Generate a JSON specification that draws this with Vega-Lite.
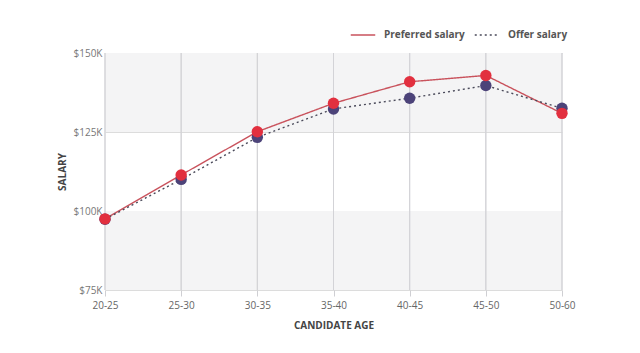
{
  "$schema": "https://vega.github.io/schema/vega-lite/v6.json",
  "autosize": "none",
  "width": 457,
  "height": 237,
  "padding": {"left": 105, "top": 53, "right": 78, "bottom": 63},
  "background": "white",
  "config": {
    "font": "Open Sans",
    "view": {"stroke": null},
    "axis": {"labelFont": "Open Sans", "titleFont": "Open Sans"},
    "axisX": {
      "labelAngle": 0, "labelFontSize": 10, "labelColor": "#666", "labelPadding": 4,
      "ticks": true, "tickSize": 6, "tickColor": "#cfcfd3", "tickWidth": 1,
      "domain": false, "grid": false, "titleFontSize": 10, "titleFontWeight": "bold",
      "titleColor": "#444", "titlePadding": 10
    },
    "legend": {"labelFont": "Open Sans"}
  },
  "datasets": {
    "salary": [
      {"age": "20-25", "series": "Preferred salary", "salary": 97500},
      {"age": "25-30", "series": "Preferred salary", "salary": 111400},
      {"age": "30-35", "series": "Preferred salary", "salary": 125100},
      {"age": "35-40", "series": "Preferred salary", "salary": 134100},
      {"age": "40-45", "series": "Preferred salary", "salary": 140900},
      {"age": "45-50", "series": "Preferred salary", "salary": 142900},
      {"age": "50-60", "series": "Preferred salary", "salary": 130900},
      {"age": "20-25", "series": "Offer salary", "salary": 97400},
      {"age": "25-30", "series": "Offer salary", "salary": 110000},
      {"age": "30-35", "series": "Offer salary", "salary": 123300},
      {"age": "35-40", "series": "Offer salary", "salary": 132300},
      {"age": "40-45", "series": "Offer salary", "salary": 135700},
      {"age": "45-50", "series": "Offer salary", "salary": 139700},
      {"age": "50-60", "series": "Offer salary", "salary": 132500}
    ],
    "bands": [
      {"lo": 125000, "hi": 150000},
      {"lo": 75000, "hi": 100000}
    ]
  },
  "layer": [
    {
      "data": {"name": "bands"},
      "mark": {"type": "rect", "color": "#f4f4f5"},
      "encoding": {
        "y": {"field": "lo", "type": "quantitative", "scale": {"domain": [75000, 150000]}},
        "y2": {"field": "hi"}
      }
    },
    {
      "data": {"name": "salary"},
      "layer": [
        {
          "mark": {"type": "rule", "color": "#d3d3d7", "strokeWidth": 1},
          "encoding": {
            "x": {"field": "age", "type": "ordinal", "scale": {"type": "point", "padding": 0}, "title": "CANDIDATE AGE"}
          }
        },
        {
          "mark": {"type": "line", "strokeWidth": 1.4},
          "encoding": {
            "x": {"field": "age", "type": "ordinal", "title": "CANDIDATE AGE"},
            "y": {
              "field": "salary", "type": "quantitative",
              "scale": {"domain": [75000, 150000], "nice": false},
              "axis": {
                "title": "SALARY", "titleFontSize": 10, "titleFontWeight": "bold", "titleColor": "#444",
                "titlePadding": 6, "values": [75000, 100000, 125000, 150000],
                "labelExpr": "'$' + datum.value / 1000 + 'K'", "labelFontSize": 10, "labelColor": "#777",
                "labelPadding": 3, "ticks": false, "domain": false, "grid": true, "gridColor": "#dcdcdc"
              }
            },
            "color": {
              "field": "series", "type": "nominal",
              "scale": {"domain": ["Preferred salary", "Offer salary"], "range": ["#c9535d", "#4a4a5a"]},
              "legend": {
                "title": null, "orient": "none", "legendX": 245, "legendY": -31, "direction": "horizontal",
                "symbolType": "stroke", "symbolSize": 600, "symbolStrokeWidth": 1.4,
                "labelFontSize": 10, "labelColor": "#555", "labelFontWeight": "bold", "columnPadding": 6, "labelOffset": 8
              }
            },
            "strokeDash": {
              "field": "series", "type": "nominal",
              "scale": {"domain": ["Preferred salary", "Offer salary"], "range": [[1, 0], [2, 3]]},
              "legend": {
                "title": null, "orient": "none", "legendX": 245, "legendY": -31, "direction": "horizontal",
                "symbolType": "stroke", "symbolSize": 600, "symbolStrokeWidth": 1.4,
                "labelFontSize": 10, "labelColor": "#555", "labelFontWeight": "bold", "columnPadding": 6, "labelOffset": 8
              }
            }
          }
        },
        {
          "mark": {"type": "point", "filled": true, "opacity": 1, "size": 130},
          "encoding": {
            "x": {"field": "age", "type": "ordinal"},
            "y": {"field": "salary", "type": "quantitative"},
            "fill": {
              "field": "series", "type": "nominal",
              "scale": {"domain": ["Preferred salary", "Offer salary"], "range": ["#e2303f", "#4c4379"]},
              "legend": null
            },
            "order": {"field": "series", "sort": "ascending"}
          }
        }
      ]
    }
  ]
}
